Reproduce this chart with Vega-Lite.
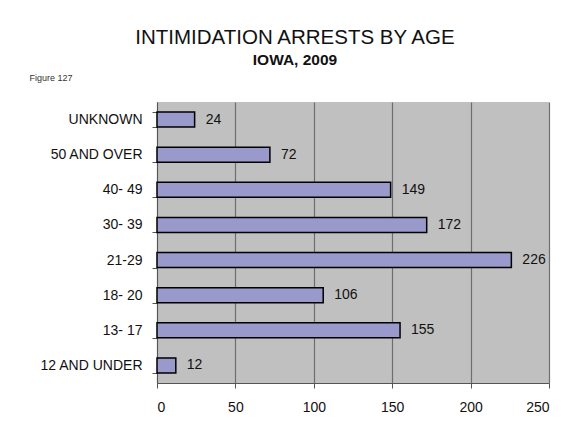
{
  "$schema": "https://vega.github.io/schema/vega-lite/v6.json",
  "autosize": "none",
  "width": 392,
  "height": 281,
  "padding": {"left": 157, "top": 102, "right": 26, "bottom": 56},
  "background": "white",
  "config": {
    "font": "Liberation Sans",
    "view": {"fill": "#C0C0C0", "stroke": null}
  },
  "title": {
    "text": "INTIMIDATION ARRESTS BY AGE",
    "subtitle": "IOWA, 2009",
    "anchor": "middle",
    "dx": -58,
    "fontSize": 20.5,
    "fontWeight": "normal",
    "color": "#111111",
    "subtitleFontSize": 15.5,
    "subtitleFontWeight": "bold",
    "subtitleColor": "#111111",
    "subtitlePadding": 4,
    "offset": 5
  },
  "data": {
    "values": [
      {"age": "UNKNOWN", "arrests": 24},
      {"age": "50 AND OVER", "arrests": 72},
      {"age": "40- 49", "arrests": 149},
      {"age": "30- 39", "arrests": 172},
      {"age": "21-29", "arrests": 226},
      {"age": "18- 20", "arrests": 106},
      {"age": "13- 17", "arrests": 155},
      {"age": "12 AND UNDER", "arrests": 12}
    ]
  },
  "encoding": {
    "y": {
      "field": "age",
      "type": "nominal",
      "sort": null,
      "scale": {"paddingInner": 0.57, "paddingOuter": 0.285},
      "axis": {
        "title": "Figure 127",
        "titleAngle": 0,
        "titleX": -128,
        "titleY": -22,
        "titleAlign": "left",
        "titleBaseline": "alphabetic",
        "titleFontSize": 9,
        "titleFontWeight": "normal",
        "titleColor": "#333333",
        "labelFontSize": 14,
        "labelColor": "#111111",
        "labelPadding": 10,
        "tickBand": "extent",
        "tickSize": 5,
        "tickColor": "#555555",
        "domainColor": "#555555",
        "grid": false
      }
    },
    "x": {
      "field": "arrests",
      "type": "quantitative",
      "scale": {"domain": [0, 250], "nice": false},
      "axis": {
        "title": null,
        "values": [0, 50, 100, 150, 200, 250],
        "labelFontSize": 14,
        "labelColor": "#111111",
        "labelPadding": 12,
        "tickSize": 5,
        "tickColor": "#555555",
        "domainColor": "#555555",
        "grid": true,
        "gridColor": "#6e6e6e",
        "gridWidth": 1.2
      }
    }
  },
  "layer": [
    {
      "mark": {"type": "bar", "fill": "#9999CC", "stroke": "#000000", "strokeWidth": 1.5}
    },
    {
      "mark": {"type": "text", "align": "left", "baseline": "middle", "dx": 11, "fontSize": 14, "color": "#111111"},
      "encoding": {"text": {"field": "arrests", "type": "quantitative"}}
    }
  ]
}
